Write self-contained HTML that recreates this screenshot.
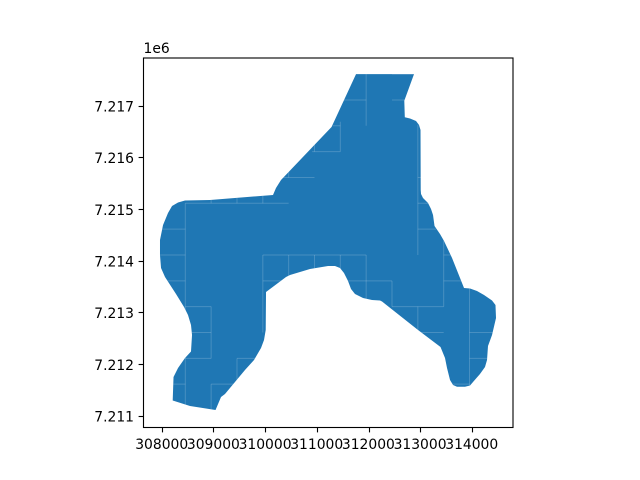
<!DOCTYPE html>
<html>
<head>
<meta charset="utf-8">
<title>Polygon map</title>
<style>
html,body{margin:0;padding:0;background:#fff;width:640px;height:480px;overflow:hidden}
svg{display:block}
text{font-family:"DejaVu Sans","Liberation Sans",sans-serif;font-size:13.89px;fill:#000}
</style>
</head>
<body>
<svg id="chart" xmlns="http://www.w3.org/2000/svg" width="640" height="480" viewBox="0 0 640 480"></svg>
<script>
var xTicks = [308000, 309000, 310000, 311000, 312000, 313000, 314000];
var xTickLabels = ["308000", "309000", "310000", "311000", "312000", "313000", "314000"];
var yTicks = [7211000, 7212000, 7213000, 7214000, 7215000, 7216000, 7217000];
var yTickLabels = ["7.211", "7.212", "7.213", "7.214", "7.215", "7.216", "7.217"];
var outlineX = [311749,312871,312683,312693,312794,312910,312968,312997,313001,313007,313045,313142,313200,313239,313268,313374,313452,313607,313839,313955,314090,314226,314381,314448,314458,314381,314303,314284,314245,314148,314013,313955,313858,313703,313626,313568,313510,313471,313384,312949,312252,312213,312058,311884,311729,311652,311594,311516,311439,311342,311207,310858,310471,310394,310007,310001,309968,309910,309775,309600,309213,309136,309030,308536,308201,308217,308304,308439,308555,308575,308555,308497,308420,308265,308052,307975,307955,307955,308014,308110,308188,308304,308439,308923,310142,310200,310297,311275];
var outlineY = [7217622,7217622,7217108,7216787,7216763,7216715,7216638,7216541,7215380,7215302,7215225,7215128,7215012,7214896,7214683,7214528,7214393,7214064,7213483,7213473,7213425,7213348,7213241,7213154,7212902,7212573,7212360,7212090,7211954,7211819,7211664,7211596,7211571,7211573,7211606,7211703,7211935,7212128,7212341,7212670,7213222,7213241,7213251,7213289,7213367,7213464,7213618,7213773,7213870,7213909,7213909,7213851,7213735,7213696,7213406,7212670,7212477,7212322,7212090,7211896,7211432,7211374,7211122,7211199,7211306,7211761,7211935,7212128,7212254,7212573,7212767,7212960,7213115,7213367,7213696,7213870,7214122,7214412,7214702,7214934,7215070,7215138,7215176,7215186,7215283,7215418,7215573,7216599];
/* Internal cell seams, in map units */
var seamH = [
 [7215122,308445,310445],[7214622,307900,308445],[7214122,307900,308445],[7213622,308000,308445],
 [7215622,310300,310945],[7216122,310900,311445],[7216622,311300,311445],[7217122,311500,311945],
 [7217122,312445,312720],[7217622,312445,312900],[7215622,312945,313010],[7215122,312945,313160],
 [7214622,312945,313300],[7214122,313445,313600],[7213622,313445,313800],[7212622,313945,314400],
 [7212122,313945,314300],[7211622,313600,313945],[7213122,312445,313445],[7213622,311600,312445],
 [7214122,309945,311945],[7213622,309945,310400],[7212622,312945,313445],[7213122,308445,308945],
 [7212622,308560,308945],[7212122,308445,308945],[7211622,308200,308445],[7211622,308945,309400],
 [7212122,309445,309800]
];
var seamV = [
 [308445,7211180,7215122],[308945,7215122,7215200],[309445,7215122,7215260],[309945,7215122,7215300],
 [310445,7215622,7215760],[310945,7216122,7216260],[311445,7216122,7216700],[311945,7216622,7217640],
 [312945,7214122,7216640],[313445,7213122,7214400],[313945,7211580,7213490],[312445,7213122,7213622],
 [311945,7213250,7214122],[309945,7212622,7214122],[310445,7213700,7214122],[310945,7213860,7214122],
 [311445,7213860,7214122],[312945,7212622,7213122],[308945,7212122,7213122],[308945,7211100,7211622],
 [309445,7211700,7212122]
];
var xMin = 307630, xMax = 314783, yMin = 7210789, yMax = 7217942;
var axLeft = 143.2, axRight = 512.8, axTop = 57.6, axBottom = 427.2;
var NS = "http://www.w3.org/2000/svg";
var svg = document.getElementById("chart");
function xScale(v){ return axLeft + (v - xMin) / (xMax - xMin) * (axRight - axLeft); }
function yScale(v){ return axBottom - (v - yMin) / (yMax - yMin) * (axBottom - axTop); }
function mk(tag, attrs){
  var el = document.createElementNS(NS, tag);
  for (var k in attrs) el.setAttribute(k, attrs[k]);
  return el;
}
var pts = outlineX.map(function(v, i){ return xScale(v).toFixed(2) + "," + yScale(outlineY[i]).toFixed(2); }).join(" ");

var defs = mk("defs", {});
var clip = mk("clipPath", {id: "shape-clip"});
clip.appendChild(mk("polygon", {points: pts}));
defs.appendChild(clip);
svg.appendChild(defs);

var shape = mk("polygon", {points: pts, fill: "#1f77b4"});


svg.appendChild(shape);

var seams = mk("g", {"clip-path": "url(#shape-clip)", stroke: "#ffffff", "stroke-opacity": "0.18", "stroke-width": "1", fill: "none"});


seamH.forEach(function(s){
  var line = mk("line", {x1: xScale(s[1]), x2: xScale(s[2]), y1: yScale(s[0]), y2: yScale(s[0])});
  
  
  seams.appendChild(line);
});
seamV.forEach(function(s){
  var line = mk("line", {x1: xScale(s[0]), x2: xScale(s[0]), y1: yScale(s[1]), y2: yScale(s[2])});
  
  
  seams.appendChild(line);
});
svg.appendChild(seams);

var frame = mk("rect", {x: 143.5, y: 58, width: 369.5, height: 369.5, fill: "none", stroke: "#000", "stroke-width": "1.11"});


svg.appendChild(frame);

xTicks.forEach(function(v, i){
  var x = Math.round(xScale(v) - 0.5) + 0.5;
  var t = mk("line", {x1: x, x2: x, y1: 427.5, y2: 432.4, stroke: "#000", "stroke-width": "1.11"});
  
  
  svg.appendChild(t);
  var l = mk("text", {x: xScale(v) - 0.6, y: 449, "text-anchor": "middle"});
  
  
  l.textContent = xTickLabels[i];
  svg.appendChild(l);
});
yTicks.forEach(function(v, i){
  var y = Math.round(yScale(v) - 0.5) + 0.5;
  var t = mk("line", {x1: 138.6, x2: 143.5, y1: y, y2: y, stroke: "#000", "stroke-width": "1.11"});
  
  
  svg.appendChild(t);
  var l = mk("text", {x: 134, y: yScale(v) + 5.2, "text-anchor": "end"});
  
  
  l.textContent = yTickLabels[i];
  svg.appendChild(l);
});
var off = mk("text", {x: 143.5, y: 53});


off.textContent = "1e6";
svg.appendChild(off);
</script>
</body>
</html>
